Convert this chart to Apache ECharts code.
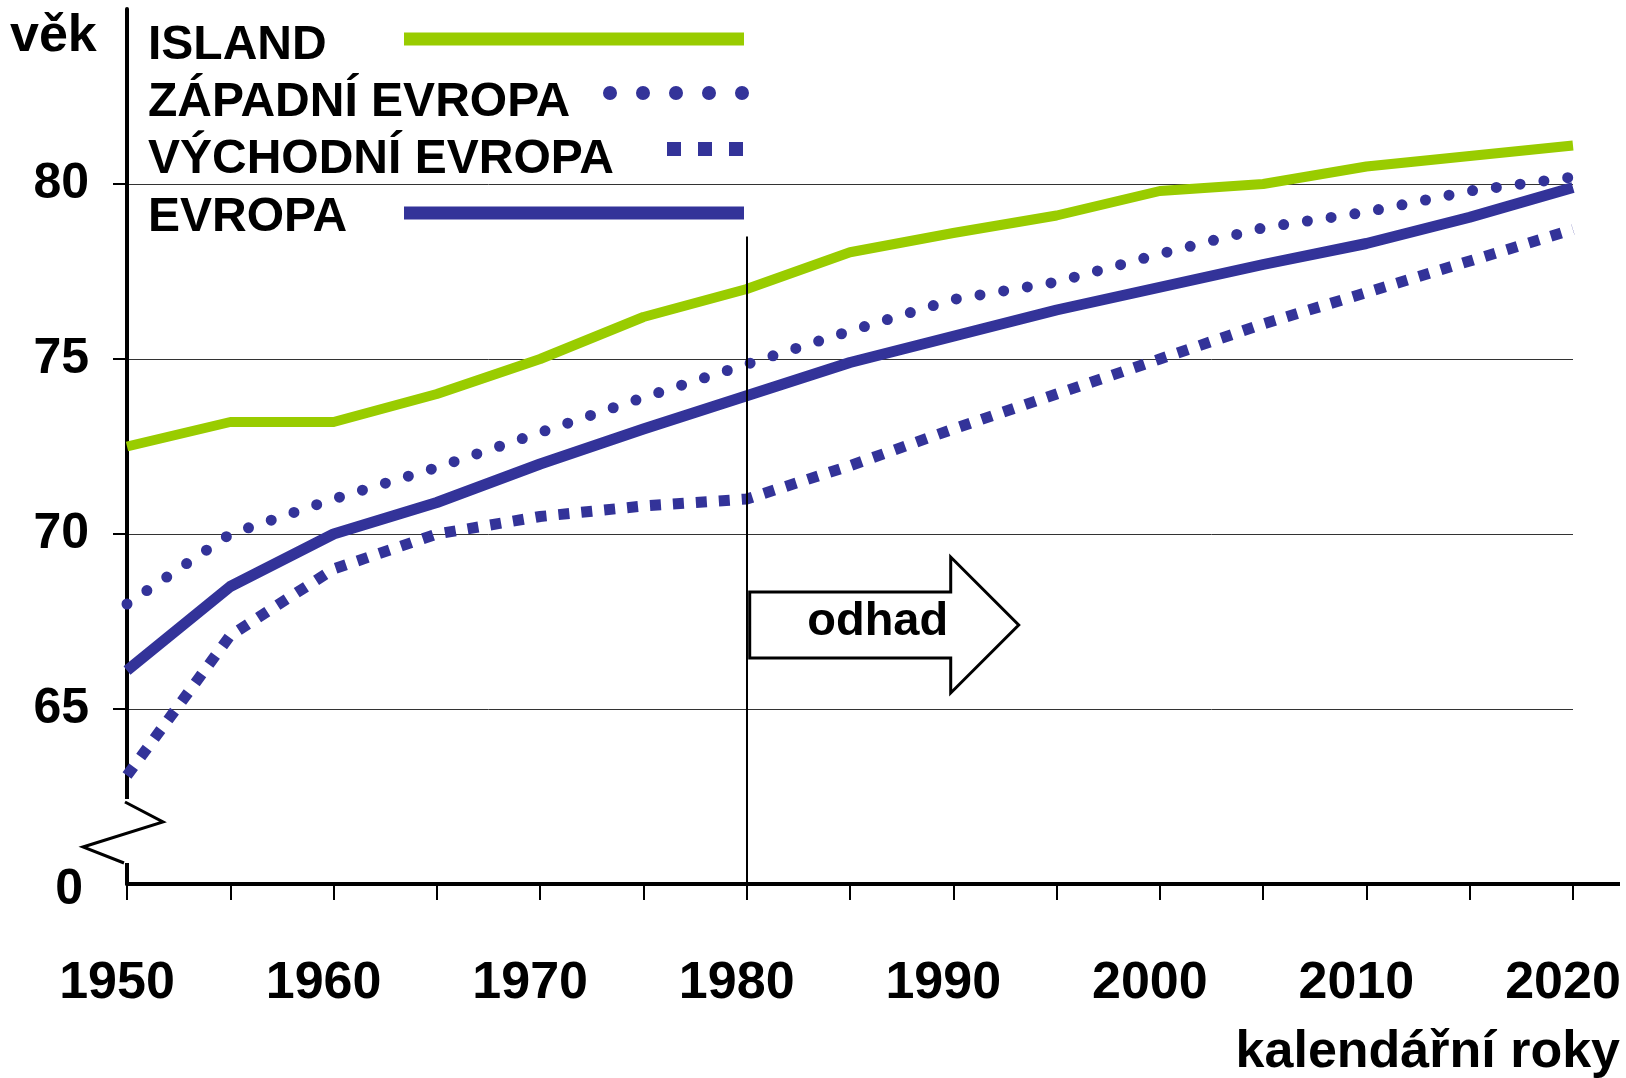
<!DOCTYPE html>
<html lang="cs">
<head>
<meta charset="UTF-8">
<title>Naděje dožití při narození</title>
<script src="https://cdn.jsdelivr.net/npm/echarts@6/dist/echarts.min.js"></script>
<style>
  html, body { margin: 0; padding: 0; background: #fff; }
  #chart { width: 1626px; height: 1078px; }
</style>
</head>
<body>
<div id="chart"></div>
<script>
// roky a hodnoty (naděje dožití)
var years    = [1950, 1955, 1960, 1965, 1970, 1975, 1980, 1985, 1990, 1995, 2000, 2005, 2010, 2015, 2020];
var island   = [72.5, 73.2, 73.2, 74.0, 75.0, 76.2, 77.0, 78.05, 78.6, 79.1, 79.8, 80.0, 80.5, 80.8, 81.1];
var zapadni  = [68.0, 70.0, 71.0, 71.9, 72.9, 73.9, 74.85, 75.8, 76.7, 77.2, 78.0, 78.75, 79.2, 79.8, 80.2];
var vychodni = [63.1, 67.1, 69.0, 70.0, 70.5, 70.8, 71.0, 71.95, 73.0, 74.0, 75.0, 76.0, 76.9, 77.8, 78.7];
var evropa   = [66.1, 68.5, 70.0, 70.9, 72.0, 73.0, 73.95, 74.9, 75.65, 76.4, 77.05, 77.7, 78.3, 79.05, 79.9];

var seriesNames = ['ISLAND', 'ZÁPADNÍ EVROPA', 'VÝCHODNÍ EVROPA', 'EVROPA'];
var xLabels = [1950, 1960, 1970, 1980, 1990, 2000, 2010, 2020];
var yTicks  = [65, 70, 75, 80];
var yLabels = [60, 65, 70, 75, 80];   // 60 = zlom osy, popisek "0"
var odhadOd = 1980;

var FONT = 'Liberation Sans, Arial, sans-serif';
var BLUE = '#333399';
var GREEN = '#99cc00';

function pairs(vals) {
    return years.map(function (y, i) { return [y, vals[i]]; });
}

var chart = echarts.init(document.getElementById('chart'));

chart.setOption({
    animation: false,
    backgroundColor: '#fff',
    grid: { left: 127, right: 53, top: 9, bottom: 194, containLabel: false, outerBoundsMode: 'none' },
    xAxis: {
        type: 'value',
        min: 1950, max: 2020, interval: 5,
        axisLine: { lineStyle: { color: '#000', width: 4 } },
        axisTick: { show: true, length: 16, lineStyle: { color: '#000', width: 2 } },
        axisLabel: {
            customValues: xLabels,
            formatter: function (v) { return String(v); },
            fontFamily: FONT, fontSize: 52, fontWeight: 'bold', color: '#000',
            margin: 74, lineHeight: 52, padding: [0, 20, 0, 0]
        },
        splitLine: { show: false }
    },
    yAxis: {
        type: 'value',
        min: 60, max: 85, interval: 5,
        axisLine: { show: true, lineStyle: { color: '#000', width: 4 } },
        axisTick: { show: true, customValues: yTicks, length: 14, lineStyle: { color: '#000', width: 2 } },
        axisLabel: {
            customValues: yLabels,
            fontFamily: FONT, fontSize: 50, fontWeight: 'bold', color: '#000', margin: 38,
            formatter: function (v) { return v === 60 ? '{z|0}' : String(v); },
            rich: { z: { fontFamily: FONT, fontSize: 50, fontWeight: 'bold', color: '#000', padding: [12, 6, 0, 0] } }
        },
        splitLine: { show: true, lineStyle: { color: '#333', width: 1 } }
    },
    series: [
        {
            name: seriesNames[0], type: 'line', data: pairs(island), symbol: 'none',
            lineStyle: { color: GREEN, width: 10, join: 'round' },
            markLine: {
                silent: true, symbol: ['none', 'none'],
                label: { show: false },
                lineStyle: { color: '#000', width: 2, type: 'solid' },
                data: [[{ coord: [odhadOd, 78.5] }, { coord: [odhadOd, 60] }]]
            }
        },
        {
            name: seriesNames[1], type: 'line', data: pairs(zapadni), symbol: 'none',
            lineStyle: { color: BLUE, width: 11, type: [0, 24], cap: 'round', join: 'round' }
        },
        {
            name: seriesNames[2], type: 'line', data: pairs(vychodni), symbol: 'none',
            lineStyle: { color: BLUE, width: 11, type: [11, 12], cap: 'butt' }
        },
        {
            name: seriesNames[3], type: 'line', data: pairs(evropa), symbol: 'none',
            lineStyle: { color: BLUE, width: 11, join: 'round' }
        }
    ]
});

// popisky, legenda, šipka "odhad" a zlom osy
var o = chart.convertToPixel({ gridIndex: 0 }, [1950, 60]);
var x0 = o[0], y0 = o[1];
var xe = chart.convertToPixel({ gridIndex: 0 }, [2020, 60])[0];
var xo = chart.convertToPixel({ gridIndex: 0 }, [odhadOd, 60])[0];

var txt = { fontFamily: FONT, fontWeight: 'bold', fill: '#000' };
function text(str, x, y, size, align) {
    return { type: 'text', x: x, y: y, z: 20,
        style: Object.assign({ text: str, fontSize: size, textAlign: align || 'left', textVerticalAlign: 'middle' }, txt) };
}
function seg(x1, y1, x2, y2, style) {
    return { type: 'line', z: 20, shape: { x1: x1, y1: y1, x2: x2, y2: y2 }, style: style };
}

var legendY = [46, 103, 160, 218];
var g = [
    text('věk', 10, 37, 52),
    text('kalendářní roky', 1620, 1053, 52, 'right'),
    text(seriesNames[0], 148, legendY[0], 48),
    text(seriesNames[1], 148, legendY[1], 48),
    text(seriesNames[2], 148, legendY[2], 48),
    text(seriesNames[3], 148, legendY[3], 48),
    seg(404, 39, 744, 39, { stroke: GREEN, lineWidth: 13 }),
    seg(610, 93, 745, 93, { stroke: BLUE, lineWidth: 14, lineDash: [0, 33], lineCap: 'round' }),
    seg(667, 149, 745, 149, { stroke: BLUE, lineWidth: 14, lineDash: [14, 17], lineCap: 'butt' }),
    seg(404, 213, 744, 213, { stroke: BLUE, lineWidth: 13 }),
    // prodloužení osy x
    seg(xe, y0, 1620, y0, { stroke: '#000', lineWidth: 4 }),
    // zlom osy y
    { type: 'rect', z: 19, shape: { x: x0 - 5, y: y0 - 85, width: 10, height: 64 }, style: { fill: '#fff' } },
    { type: 'polyline', z: 20,
      shape: { points: [[x0 - 2, y0 - 82], [x0 + 36, y0 - 62], [x0 - 44, y0 - 37], [x0 - 3, y0 - 21]] },
      style: { stroke: '#000', lineWidth: 3, fill: null } },
    // šipka odhad
    { type: 'polygon', z: 20,
      shape: { points: [[xo + 3, 592], [xo + 204, 592], [xo + 204, 557], [xo + 272, 625],
                        [xo + 204, 693], [xo + 204, 658], [xo + 3, 658]] },
      style: { fill: '#fff', stroke: '#000', lineWidth: 3 } },
    text('odhad', xo + 131, 622, 47, 'center')
];
chart.setOption({ graphic: g });
</script>
</body>
</html>
